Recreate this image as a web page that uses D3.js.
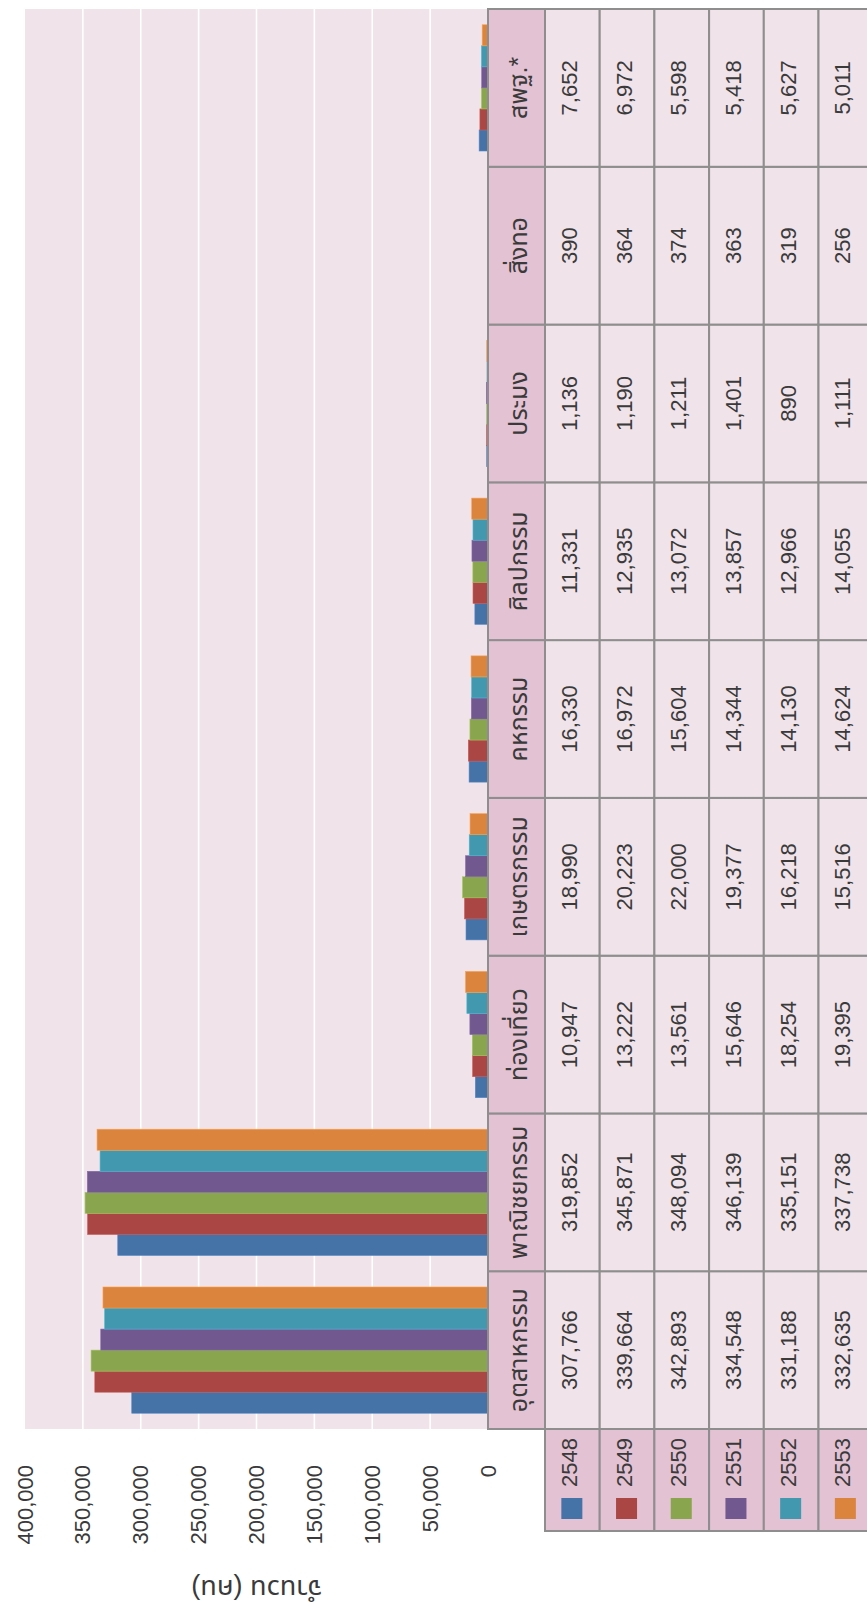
<!DOCTYPE html>
<html><head><meta charset="utf-8">
<script src="https://cdn.jsdelivr.net/npm/d3@7/dist/d3.min.js"></script>
<style>
html,body{margin:0;padding:0;background:#fff;}
svg{display:block;}
text{font-family:"Liberation Sans","Noto Sans","Noto Sans Thai","Loma","Garuda",sans-serif;fill:#3a3a3a;}
</style></head><body>
<svg id="chart" width="867" height="1603"></svg>
<script>
const categories = ["อุตสาหกรรม","พาณิชยกรรม","ท่องเที่ยว","เกษตรกรรม","คหกรรม","ศิลปกรรม","ประมง","สิ่งทอ","สพฐ.*"];
const years = ["2548","2549","2550","2551","2552","2553"];
const v2548 = [307766,319852,10947,18990,16330,11331,1136,390,7652];
const v2549 = [339664,345871,13222,20223,16972,12935,1190,364,6972];
const v2550 = [342893,348094,13561,22000,15604,13072,1211,374,5598];
const v2551 = [334548,346139,15646,19377,14344,13857,1401,363,5418];
const v2552 = [331188,335151,18254,16218,14130,12966,890,319,5627];
const v2553 = [332635,337738,19395,15516,14624,14055,1111,256,5011];
const seriesValues = [v2548,v2549,v2550,v2551,v2552,v2553];
const tickValues = [0,50000,100000,150000,200000,250000,300000,350000,400000];
const seriesColors = ["#4572A7","#AA4643","#89A54E","#71588F","#4198AF","#DB843D"];
const axisTitle = "จำนวน (คน)";

// Chart is drawn in an unrotated frame (W x H) then turned -90deg onto the page.
const W = 1603, H = 867;
const plotL = 174, plotR = 1594, plotT = 25, plotB = 488;
const headerH = 57, rowH = 54.7, legendL = 72;
const fs = 22, fsThai = 25, fsTitle = 27;
const bgPlot = "#F0E3EA", bgHead = "#E3C2D3", bgCell = "#F0E3EA", border = "#8E8E8E";

const svg = d3.select("#chart");
const g = svg.append("g").attr("transform", `translate(0,${W}) rotate(-90)`);

const x = d3.scaleBand().domain(categories).range([plotL, plotR]).paddingInner(0.2).paddingOuter(0.1);
const x1 = d3.scaleBand().domain(years).range([0, x.bandwidth()]).padding(0);
const y = d3.scaleLinear().domain([0, 400000]).range([plotB, plotT]);
const step = x.step();
const colStart = c => x(c) - (step - x.bandwidth()) / 2;

// plot background
g.append("rect").attr("x", plotL).attr("y", plotT).attr("width", plotR - plotL).attr("height", plotB - plotT).attr("fill", bgPlot);

// gridlines
g.append("g").selectAll("line").data(tickValues.filter(d => d > 0 && d < 400000)).join("line")
  .attr("x1", plotL).attr("x2", plotR).attr("y1", d => y(d)).attr("y2", d => y(d))
  .attr("stroke", "#fff").attr("stroke-width", 1.6);

// tick labels
g.append("g").selectAll("text").data(tickValues).join("text")
  .attr("x", 138).attr("y", d => y(d)).attr("text-anchor", "end").attr("dominant-baseline", "central")
  .attr("font-size", fs).text(d => d3.format(",")(d));

// bars
const groups = g.append("g").selectAll("g").data(years).join("g")
  .attr("transform", yr => `translate(${x1(yr)},0)`);
groups.selectAll("rect").data((yr, i) => categories.map((c, j) => ({c, v: seriesValues[i][j], col: seriesColors[i]}))).join("rect")
  .attr("x", d => x(d.c)).attr("width", x1.bandwidth())
  .attr("y", d => y(d.v)).attr("height", d => y(0) - y(d.v))
  .attr("fill", d => d.col).attr("stroke", d => d3.color(d.col).brighter(0.5)).attr("stroke-width", 0.6);

// data table header row
const tbl = g.append("g");
tbl.selectAll("rect.h").data(categories).join("rect").attr("class", "h")
  .attr("x", c => colStart(c)).attr("y", plotB).attr("width", step).attr("height", headerH)
  .attr("fill", bgHead).attr("stroke", border).attr("stroke-width", 2);
tbl.selectAll("text.h").data(categories).join("text").attr("class", "h")
  .attr("x", c => colStart(c) + step / 2).attr("y", plotB + headerH / 2 + 1)
  .attr("text-anchor", "middle").attr("dominant-baseline", "central").attr("font-size", fsThai).text(c => c);

// data rows
years.forEach((yr, i) => {
  const top = plotB + headerH + i * rowH;
  const row = tbl.append("g");
  row.append("rect").attr("x", legendL).attr("y", top).attr("width", plotL - legendL).attr("height", rowH)
    .attr("fill", bgHead).attr("stroke", border).attr("stroke-width", 2);
  row.append("rect").attr("x", 84).attr("y", top + rowH / 2 - 11).attr("width", 21).attr("height", 21)
    .attr("fill", seriesColors[i]);
  row.append("text").attr("x", 116).attr("y", top + rowH / 2 - 3).attr("dominant-baseline", "central")
    .attr("font-size", fs).text(yr);
  row.selectAll("rect.c").data(categories).join("rect").attr("class", "c")
    .attr("x", c => colStart(c)).attr("y", top).attr("width", step).attr("height", rowH)
    .attr("fill", bgCell).attr("stroke", border).attr("stroke-width", 2);
  row.selectAll("text.c").data(categories).join("text").attr("class", "c")
    .attr("x", c => colStart(c) + step / 2).attr("y", top + rowH / 2 - 3)
    .attr("text-anchor", "middle").attr("dominant-baseline", "central").attr("font-size", fs)
    .text((c, j) => d3.format(",")(seriesValues[i][j]));
});

// axis title
g.append("text").attr("transform", `translate(14,${(plotT + plotB) / 2}) rotate(-90)`)
  .attr("text-anchor", "middle").attr("dominant-baseline", "central").attr("font-size", fsTitle).text(axisTitle);
</script>
</body></html>
